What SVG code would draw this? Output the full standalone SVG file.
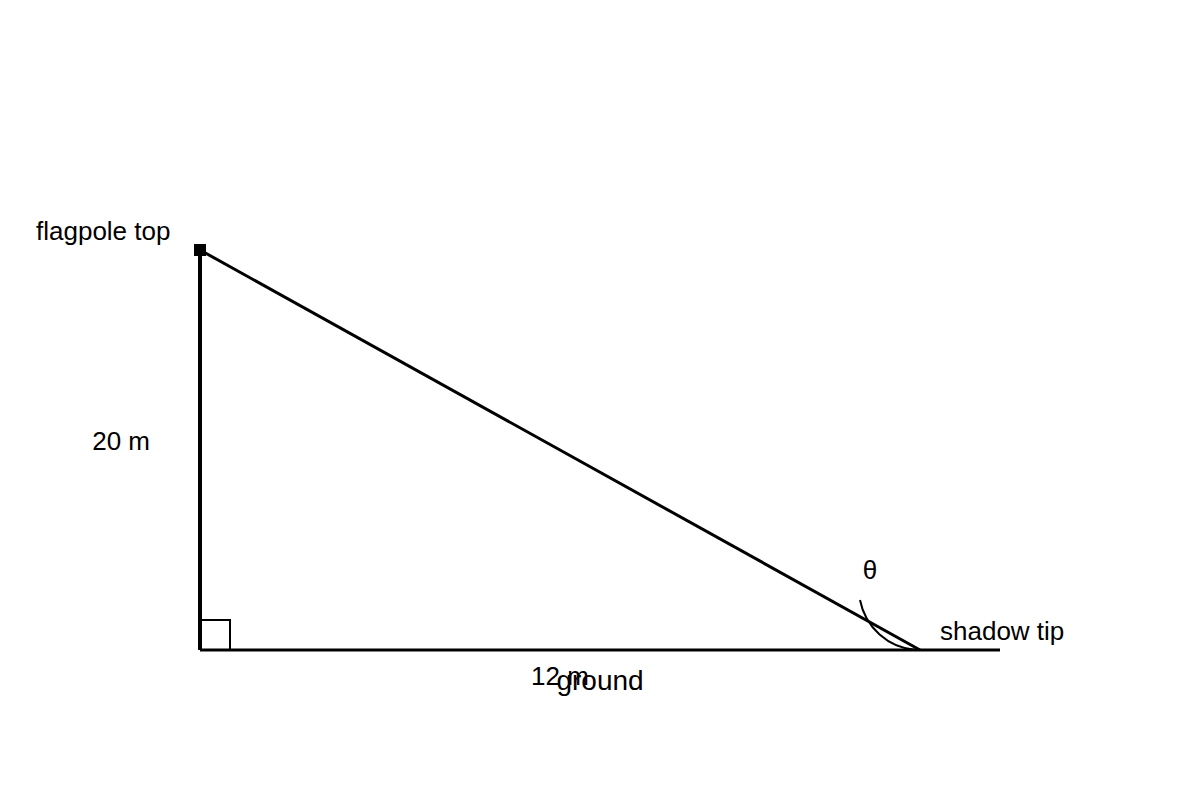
<svg xmlns="http://www.w3.org/2000/svg" width="1200" height="800" viewBox="0 0 1200 800">
<style>
.lbl{font-family:"Liberation Sans",Arial,sans-serif;font-size:26px;fill:#000}
.ln{stroke:#000;fill:none}
</style>
<rect width="1200" height="800" fill="#fff"/>
<g id="connectors">
<line class="ln" x1="200" y1="250" x2="200" y2="650" stroke-width="4"/>
<line class="ln" x1="200" y1="650" x2="1000" y2="650" stroke-width="3"/>
<line class="ln" x1="200" y1="250" x2="920" y2="650" stroke-width="3"/>
<path class="ln" d="M200 620 H230 V650" stroke-width="2"/>
<path class="ln" d="M860 600 A62 62 0 0 0 916 650" stroke-width="2"/>
</g>
<g id="flagpole-top">
<rect x="194" y="244" width="12" height="12" fill="#000"/>
<text class="lbl" x="36" y="240">flagpole top</text>
</g>
<g id="shadow-tip">
<text class="lbl" x="940" y="640">shadow tip</text>
</g>
<g id="labels">
<text class="lbl" x="150" y="450" text-anchor="end">20 m</text>
<text class="lbl" x="560" y="685" text-anchor="middle">12 m</text>
<text class="lbl" x="600" y="690" text-anchor="middle" style="font-size:28px">ground</text>
<text class="lbl" x="870" y="579" text-anchor="middle">θ</text>
</g>
</svg>
